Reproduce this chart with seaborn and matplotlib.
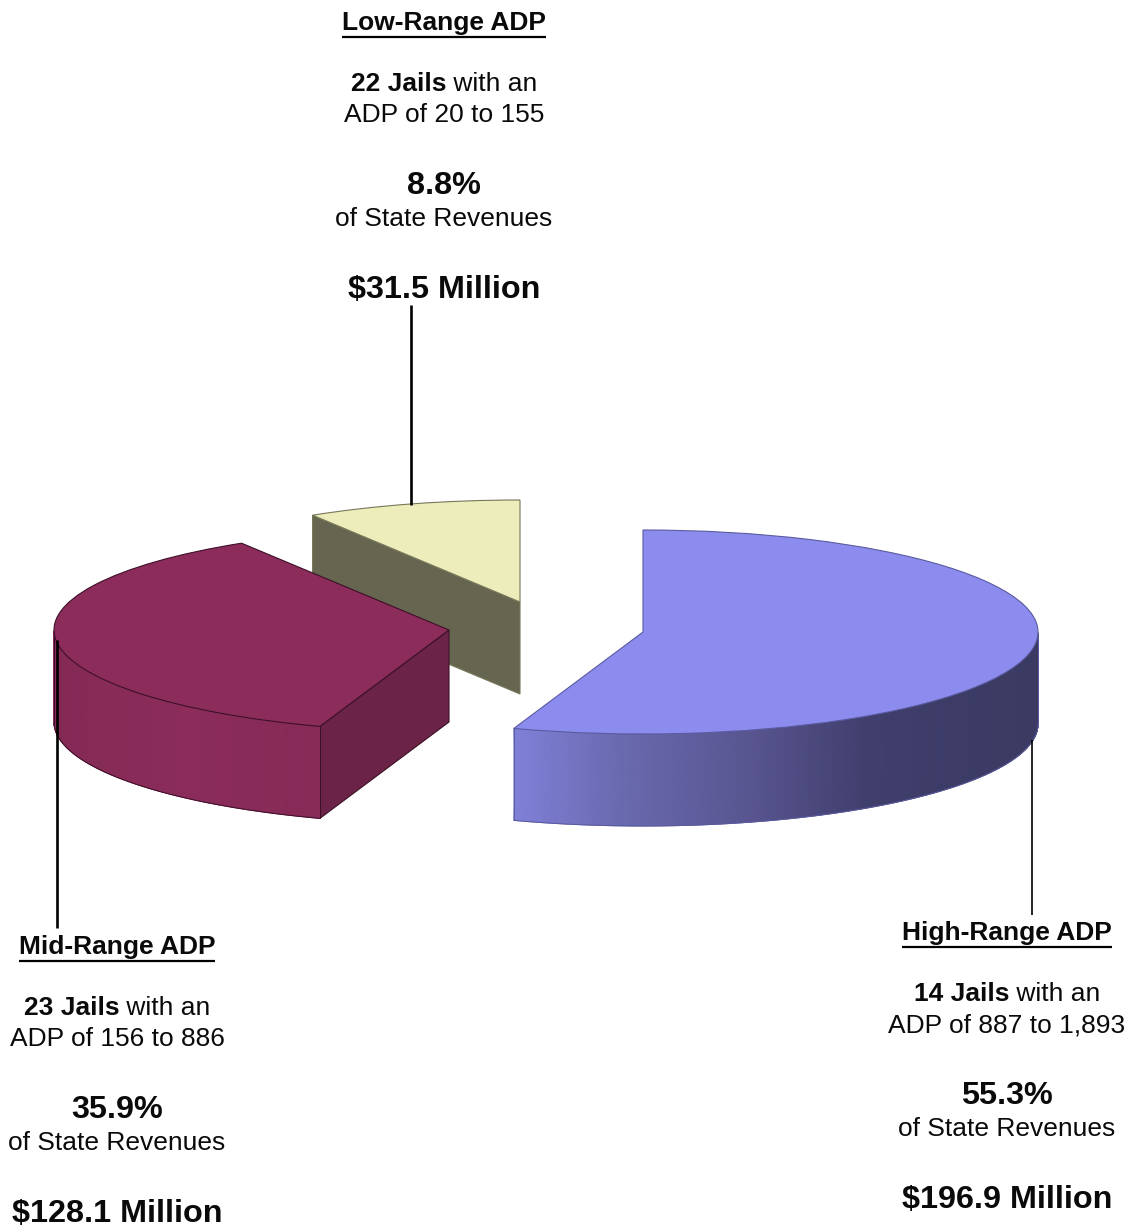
import numpy as np
import matplotlib
matplotlib.use('Agg')
import matplotlib.pyplot as plt
from matplotlib.colors import LinearSegmentedColormap
from matplotlib.transforms import Affine2D
import seaborn as sns

# values
shares = [55.3, 35.9, 8.8]
headers = ['High-Range ADP', 'Mid-Range ADP', 'Low-Range ADP']
jails = ['14 Jails', '23 Jails', '22 Jails']
adp_ranges = ['ADP of 887 to 1,893', 'ADP of 156 to 886', 'ADP of 20 to 155']
percents = ['55.3%', '35.9%', '8.8%']
dollars = ['$196.9 Million', '$128.1 Million', '$31.5 Million']

# colours
top_colors = sns.color_palette(['#8c8cee', '#8b2c5b', '#ededbb'])
edge_colors = ['#5a5aa0', '#3d1028', '#77775a']
cut_colors = ['#3a3a62', '#6b2347', '#666650']
wall_stops = [[(0, '#8080d8'), (0.2, '#6a6ab0'), (0.45, '#585590'), (0.68, '#403e6c'), (1, '#3a3a62')],
              [(0, '#842a55'), (0.5, '#8b2c5a'), (1, '#862a56')],
              [(0, '#666650'), (1, '#666650')]]

# layout in pixels
centers = [(643, 632), (449, 630), (520, 602)]
rx, ry, depth = 395, 102, 92
text_x = [1007, 117, 444]
text_top = [933, 947, 23]
order = [2, 1, 0]

sns.set_theme(style='white')
plt.rcParams['font.family'] = ['Liberation Sans', 'DejaVu Sans']

fig = plt.figure(figsize=(11.35, 12.28), dpi=100)
ax = fig.add_axes([0, 0, 1, 1])
wedges, _ = ax.pie(shares, startangle=90, counterclock=False, colors=top_colors)
ax.set_aspect('auto')
ax.set_xlim(0, 1135)
ax.set_ylim(1228, 0)
ax.axis('off')


def ell(cx, cy, deg):
    t = np.radians(deg)
    return cx + rx * np.cos(t), cy - ry * np.sin(t)


for i in order:
    w = wedges[i]
    cx, cy = centers[i]
    z = 2 + order.index(i)

    # cut face on the clockwise-start edge
    ex, ey = ell(cx, cy, w.theta2)
    if abs(np.cos(np.radians(w.theta2))) > 0.01:
        ax.fill([cx, ex, ex, cx], [cy, ey, ey + depth, cy + depth], facecolor=cut_colors[i],
                edgecolor=edge_colors[i], lw=0.8, zorder=z)

    # outer wall, front part only
    ts = np.linspace(w.theta1, w.theta2, 400)
    ts = ts[np.sin(np.radians(ts)) < 0]
    if len(ts) > 1:
        xs, ys = ell(cx, cy, ts)
        cmap = LinearSegmentedColormap.from_list('wall', wall_stops[i])
        grid_x = np.vstack([xs, xs])
        grid_y = np.vstack([ys, ys + depth])
        shade = np.vstack([xs, xs])
        ax.pcolormesh(grid_x, grid_y, shade, cmap=cmap, shading='gouraud', zorder=z)
        ax.plot(xs, ys + depth, color=edge_colors[i], lw=0.7, zorder=z)
        ax.plot([xs[0], xs[0]], [ys[0], ys[0] + depth], color=edge_colors[i], lw=0.7, zorder=z)
        ax.plot([xs[-1], xs[-1]], [ys[-1], ys[-1] + depth], color=edge_colors[i], lw=0.7, zorder=z)

    # top face
    w.set_transform(Affine2D().scale(rx, -ry).translate(cx, cy) + ax.transData)
    w.set_edgecolor(edge_colors[i])
    w.set_linewidth(0.8)
    w.set_zorder(z + 0.5)
    w.set_clip_on(False)

# leader lines
ax.plot([411, 411], [305, 505], color='black', lw=1.9, zorder=6, solid_capstyle='butt')
ax.plot([57, 57], [640, 928], color='black', lw=1.9, zorder=6, solid_capstyle='butt')
ax.plot([1032, 1032], [740, 915], color='black', lw=1.2, zorder=6, solid_capstyle='butt')

# labels
renderer = fig.canvas.get_renderer()
for i in range(3):
    x, top = text_x[i], text_top[i]
    h = ax.text(x, top, headers[i], ha='center', va='center', fontsize=19, fontweight='bold', color='#0a0a0a')
    box = h.get_window_extent(renderer)
    ax.plot([box.x0, box.x1], [top + 14, top + 14], color='black', lw=1.6, solid_capstyle='butt')

    a = ax.text(0, top + 61, jails[i], va='center', ha='left', fontsize=19, fontweight='bold', color='#0a0a0a')
    b = ax.text(0, top + 61, ' with an', va='center', ha='left', fontsize=19, color='#0a0a0a')
    wa = a.get_window_extent(renderer).width
    wb = b.get_window_extent(renderer).width
    a.set_x(x - (wa + wb) / 2)
    b.set_x(x - (wa + wb) / 2 + wa)

    ax.text(x, top + 92, adp_ranges[i], ha='center', va='center', fontsize=19, color='#0a0a0a')
    ax.text(x, top + 163, percents[i], ha='center', va='center', fontsize=23.3, fontweight='bold', color='#0a0a0a')
    ax.text(x, top + 196, 'of State Revenues', ha='center', va='center', fontsize=19, color='#0a0a0a')
    ax.text(x, top + 267, dollars[i], ha='center', va='center', fontsize=23.3, fontweight='bold', color='#0a0a0a')

fig.savefig('out.png', dpi=100, facecolor='white')
